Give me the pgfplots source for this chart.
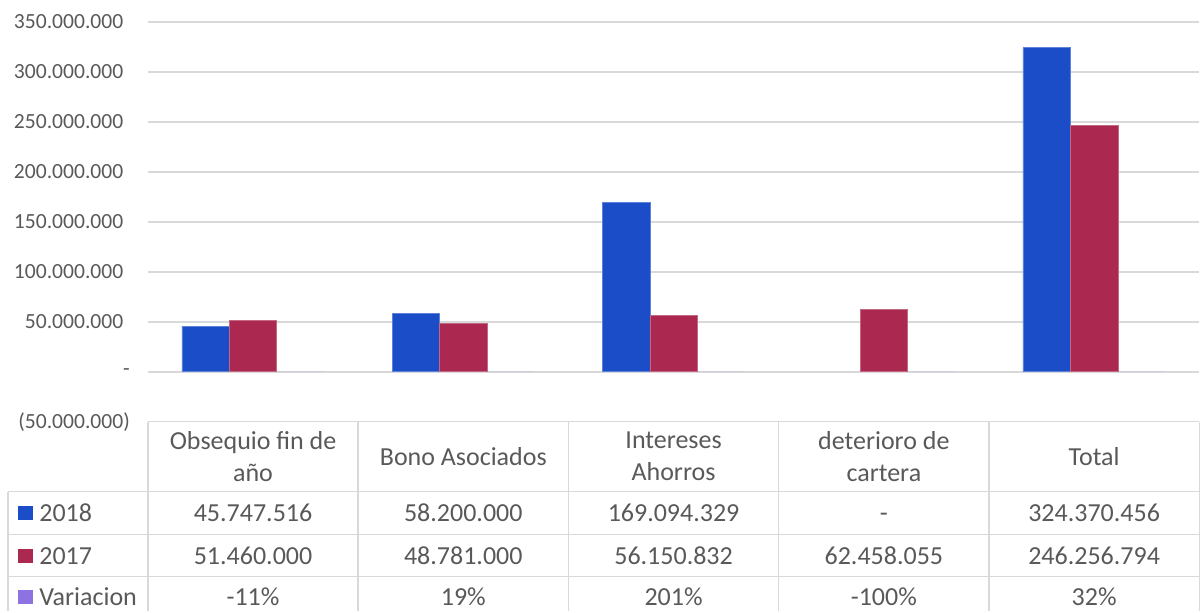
\documentclass[border=0pt]{standalone}
\usepackage{fontspec}
\setmainfont{Carlito}
\usepackage{pgfplots}
\pgfplotsset{compat=1.18}
\definecolor{c2018}{RGB}{27,77,200}
\definecolor{c2017}{RGB}{171,40,80}
\definecolor{cvar}{RGB}{140,115,225}
\definecolor{gridc}{RGB}{217,217,217}
\definecolor{txt}{RGB}{89,89,89}

\begin{document}
\begin{tikzpicture}
\begin{axis}[
  scale only axis,
  width=526pt, height=200pt,
  xmin=0.5, xmax=5.5,
  ymin=-50000000, ymax=350000000,
  ybar=0pt, bar width=23.75pt,
  axis line style={draw=none},
  xtick=\empty,
  scaled y ticks=false,
  ytick={-50000000,0,50000000,100000000,150000000,200000000,250000000,300000000,350000000},
  yticklabels={(50.000.000),{-\hspace{16.5pt}},50.000.000\phantom{)},100.000.000\phantom{)},150.000.000\phantom{)},200.000.000\phantom{)},250.000.000\phantom{)},300.000.000\phantom{)},350.000.000\phantom{)}},
  yticklabel style={font=\fontsize{10.8}{12}\selectfont, text=txt, xshift=-5.5pt},
  major tick length=0pt,
  ymajorgrids,
  grid style={gridc, line width=0.75pt},
  clip=false,
]
  \addplot[fill=c2018, draw=c2018!70!white, line width=0.3pt] coordinates {(1,45747516) (2,58200000) (3,169094329) (5,324370456)};
  \addplot[fill=c2017, draw=c2017!70!white, line width=0.3pt] coordinates {(1,51460000) (2,48781000) (3,56150832) (4,62458055) (5,246256794)};
  \addplot[fill=cvar, draw=none] coordinates {(1,-0.11) (2,0.19) (3,2.01) (4,-1.00) (5,0.32)};

  % data table below the plot
  \pgfplotsinvokeforeach{0.5,1.5,2.5,3.5,4.5,5.5}{
    \draw[gridc, line width=0.75pt] (axis cs:#1,-50000000) -- (axis cs:#1,-239000000);
  }
  \pgfplotsinvokeforeach{-120000000,-163000000,-205000000}{
    \draw[gridc, line width=0.75pt] ([xshift=-70pt]axis cs:0.5,#1) -- (axis cs:5.5,#1);
  }
  \draw[gridc, line width=0.75pt] ([xshift=-70pt]axis cs:0.5,-120000000) -- ([xshift=-70pt]axis cs:0.5,-239000000);

  \begin{scope}[every node/.style={font=\fontsize{13}{16}\selectfont, text=txt, align=center}]
    \node at (axis cs:1,-85000000) {Obsequio fin de\\año};
    \node at (axis cs:2,-85000000) {Bono Asociados};
    \node at (axis cs:3,-85000000) {Intereses\\Ahorros};
    \node at (axis cs:4,-85000000) {deterioro de\\cartera};
    \node at (axis cs:5,-85000000) {Total};

    \node at (axis cs:1,-141500000) {45.747.516};
    \node at (axis cs:2,-141500000) {58.200.000};
    \node at (axis cs:3,-141500000) {169.094.329};
    \node at (axis cs:4,-141500000) {\vphantom{0}-};
    \node at (axis cs:5,-141500000) {324.370.456};

    \node at (axis cs:1,-184000000) {51.460.000};
    \node at (axis cs:2,-184000000) {48.781.000};
    \node at (axis cs:3,-184000000) {56.150.832};
    \node at (axis cs:4,-184000000) {62.458.055};
    \node at (axis cs:5,-184000000) {246.256.794};

    \node at (axis cs:1,-225000000) {-11\%};
    \node at (axis cs:2,-225000000) {19\%};
    \node at (axis cs:3,-225000000) {201\%};
    \node at (axis cs:4,-225000000) {-100\%};
    \node at (axis cs:5,-225000000) {32\%};

    \node[anchor=west, inner sep=0pt] at ([xshift=-54.5pt]axis cs:0.5,-141500000) {2018};
    \node[anchor=west, inner sep=0pt] at ([xshift=-54.5pt]axis cs:0.5,-184000000) {2017};
    \node[anchor=west, inner sep=0pt] at ([xshift=-54.5pt]axis cs:0.5,-225000000) {Variacion};
  \end{scope}
  \fill[c2018] ([xshift=-65pt,yshift=-3.5pt]axis cs:0.5,-141500000) rectangle ++(7.5pt,7pt);
  \fill[c2017] ([xshift=-65pt,yshift=-3.5pt]axis cs:0.5,-184000000) rectangle ++(7.5pt,7pt);
  \fill[cvar] ([xshift=-65pt,yshift=-3.5pt]axis cs:0.5,-225000000) rectangle ++(7.5pt,7pt);
\end{axis}
\path[use as bounding box] ([shift={(-74pt,-94.5pt)}]current axis.south west) rectangle ([shift={(0pt,11pt)}]current axis.north east);
\end{tikzpicture}
\end{document}
